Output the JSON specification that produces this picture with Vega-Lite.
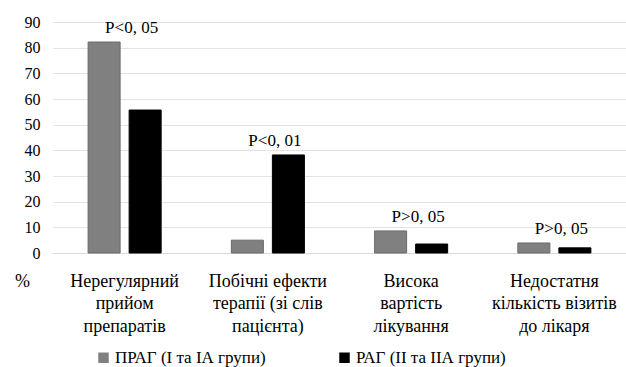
{
  "$schema": "https://vega.github.io/schema/vega-lite/v6.json",
  "width": 573,
  "height": 231,
  "autosize": {"type": "none"},
  "padding": {"left": 53, "top": 22, "right": 0, "bottom": 114},
  "background": "white",
  "config": {
    "view": {"stroke": null},
    "font": "Liberation Serif"
  },
  "data": {
    "values": [
      {"reason": "Нерегулярний|прийом|препаратів", "group": "ПРАГ (І та ІА групи)", "value": 82.2, "p": "P<0, 05"},
      {"reason": "Нерегулярний|прийом|препаратів", "group": "РАГ (ІІ та ІІА групи)", "value": 55.7, "p": "P<0, 05"},
      {"reason": "Побічні ефекти|терапії  (зі слів|пацієнта)", "group": "ПРАГ (І та ІА групи)", "value": 5.0, "p": "P<0, 01"},
      {"reason": "Побічні ефекти|терапії  (зі слів|пацієнта)", "group": "РАГ (ІІ та ІІА групи)", "value": 38.2, "p": "P<0, 01"},
      {"reason": "Висока|вартість|лікування", "group": "ПРАГ (І та ІА групи)", "value": 8.6, "p": "P>0, 05"},
      {"reason": "Висока|вартість|лікування", "group": "РАГ (ІІ та ІІА групи)", "value": 3.5, "p": "P>0, 05"},
      {"reason": "Недостатня|кількість візитів|до лікаря", "group": "ПРАГ (І та ІА групи)", "value": 3.9, "p": "P>0, 05"},
      {"reason": "Недостатня|кількість візитів|до лікаря", "group": "РАГ (ІІ та ІІА групи)", "value": 2.0, "p": "P>0, 05"}
    ]
  },
  "encoding": {
    "x": {
      "field": "reason",
      "type": "nominal",
      "sort": null,
      "scale": {"paddingInner": 0.49, "paddingOuter": 0.245},
      "axis": {
        "title": null,
        "labelAngle": 0,
        "labelExpr": "split(datum.label, '|')",
        "labelFont": "Liberation Serif",
        "labelFontSize": 18,
        "labelColor": "#000",
        "labelLineHeight": 22.5,
        "labelPadding": 19,
        "labelBaseline": "top",
        "ticks": false,
        "domain": true,
        "domainColor": "#d9d9d9",
        "domainWidth": 1,
        "grid": false
      }
    }
  },
  "resolve": {"axis": {"y": "independent"}},
  "layer": [
    {
      "mark": {"type": "bar", "strokeWidth": 1},
      "encoding": {
        "xOffset": {"field": "group", "type": "nominal", "sort": null, "scale": {"paddingInner": 0.22}},
        "y": {
          "field": "value",
          "type": "quantitative",
          "scale": {"domain": [0, 90]},
          "axis": {
            "values": [0, 10, 20, 30, 40, 50, 60, 70, 80, 90],
            "labelOverlap": false,
            "title": "%",
            "titleAngle": 0,
            "titleFont": "Liberation Serif",
            "titleFontSize": 18,
            "titleFontWeight": "normal",
            "titleColor": "#000",
            "titleX": -31,
            "titleY": 259,
            "titleAlign": "center",
            "titleBaseline": "middle",
            "labelFont": "Liberation Serif",
            "labelFontSize": 16,
            "labelColor": "#000",
            "labelPadding": 13,
            "ticks": false,
            "domain": false,
            "gridColor": "#e3e3e3",
            "gridWidth": 1
          }
        },
        "color": {
          "field": "group",
          "type": "nominal",
          "sort": null,
          "scale": {"range": ["#808080", "#000000"]},
          "legend": {
            "title": null,
            "orient": "none",
            "legendX": 42,
            "legendY": 327,
            "direction": "horizontal",
            "symbolType": "square",
            "symbolSize": 110,
            "symbolStrokeWidth": 0,
            "labelFont": "Liberation Serif",
            "labelFontSize": 17,
            "labelLimit": 300,
            "labelColor": "#000",
            "columnPadding": 70,
            "labelOffset": 3
          }
        },
        "stroke": {
          "field": "group",
          "type": "nominal",
          "sort": null,
          "scale": {"range": ["#6a6a6a", "#000000"]},
          "legend": null
        }
      }
    },
    {
      "transform": [
        {"aggregate": [{"op": "max", "field": "value", "as": "top"}], "groupby": ["reason", "p"]}
      ],
      "mark": {"type": "text", "baseline": "alphabetic", "dy": -9, "dx": 7, "fontSize": 17, "font": "Liberation Serif", "color": "#000"},
      "encoding": {
        "y": {"field": "top", "type": "quantitative", "scale": {"domain": [0, 90]}, "axis": null},
        "text": {"field": "p"}
      }
    }
  ]
}
